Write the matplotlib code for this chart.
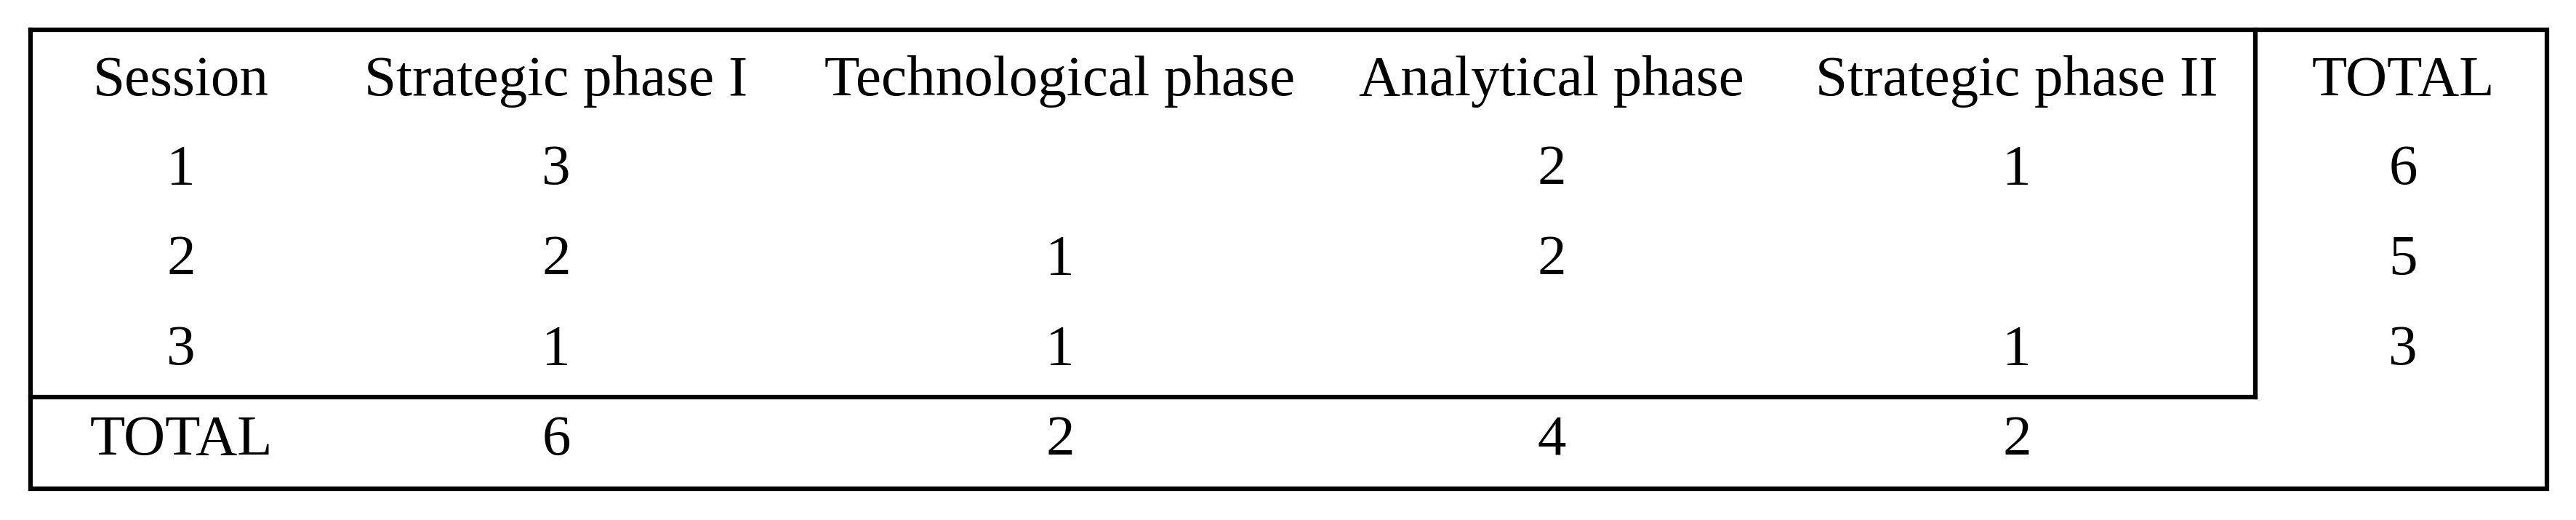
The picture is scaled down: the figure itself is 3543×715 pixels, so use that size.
import matplotlib.pyplot as plt

# table content
header = ["Session", "Strategic phase I", "Technological phase", "Analytical phase", "Strategic phase II", "TOTAL"]
sessions = ["1", "2", "3"]
strategic_1 = ["3", "2", "1"]
technological = ["", "1", "1"]
analytical = ["2", "2", ""]
strategic_2 = ["1", "", "1"]
row_totals = ["6", "5", "3"]
col_totals = ["TOTAL", "6", "2", "4", "2"]

plt.rcParams['font.family'] = ['Liberation Serif', 'DejaVu Serif']

W, H = 3543, 715
fig = plt.figure(figsize=(W / 100, H / 100), dpi=100)
ax = fig.add_axes([0, 0, 1, 1])
ax.set_xlim(0, W)
ax.set_ylim(H, 0)
ax.axis('off')

col_x = [249, 765, 1458, 2134, 2774, 3305]
row_y = [112, 234, 358, 482, 606]
fs = 57

lw = 4.5
# outer border
ax.plot([42, 3503, 3503, 42, 42], [41, 41, 672, 672, 41], color='black', lw=lw, solid_joinstyle='miter')
# inner box lines
ax.plot([3102, 3102], [41, 546], color='black', lw=lw)
ax.plot([42, 3102], [546, 546], color='black', lw=lw)

for x, t in zip(col_x, header):
    ax.text(x, row_y[0], t, ha='center', va='center', fontsize=fs)

body = list(zip(sessions, strategic_1, technological, analytical, strategic_2, row_totals))
for i, row in enumerate(body):
    for x, t in zip(col_x, row):
        if t:
            ax.text(x, row_y[i + 1], t, ha='center', va='center', fontsize=fs)

for x, t in zip(col_x, col_totals):
    ax.text(x, row_y[4], t, ha='center', va='center', fontsize=fs)

fig.savefig('out.png', dpi=100, facecolor='white')
